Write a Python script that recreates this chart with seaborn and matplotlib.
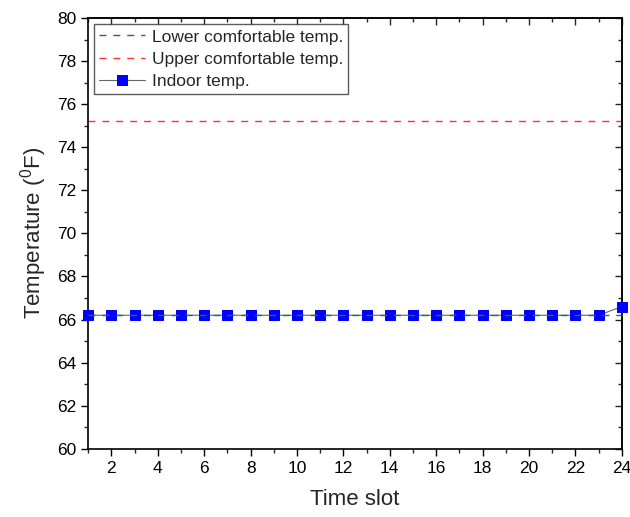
import matplotlib
matplotlib.use("Agg")
import matplotlib.pyplot as plt
import seaborn as sns
import pandas as pd
import numpy as np

sns.set_theme(style="white")
plt.rcParams['font.family'] = ['Liberation Sans', 'DejaVu Sans']
plt.rcParams['mathtext.fontset'] = 'custom'
plt.rcParams['mathtext.rm'] = 'Liberation Sans'

time_slot = list(range(1, 25))
lower_comfort = [66.2] * 24
upper_comfort = [75.2] * 24
indoor_temp = [66.2] * 23 + [66.6]

df = pd.DataFrame({"slot": time_slot, "lower": lower_comfort,
                   "upper": upper_comfort, "indoor": indoor_temp})

fig, ax = plt.subplots(figsize=(6.3, 5.17), dpi=100)
fig.subplots_adjust(left=0.14, right=0.987, top=0.965, bottom=0.132)

sns.lineplot(data=df, x="slot", y="lower", ax=ax, color="#1a7a1a", lw=1.0,
             label="Lower comfortable temp.", zorder=4)
ax.lines[-1].set_linestyle((0, (5, 5)))
sns.lineplot(data=df, x="slot", y="upper", ax=ax, color="#ff3030", lw=1.0,
             label="Upper comfortable temp.")
ax.lines[-1].set_linestyle((0, (5, 5)))
sns.lineplot(data=df, x="slot", y="indoor", ax=ax, color="#666666", lw=0.8,
             marker="s", markersize=6.5, markerfacecolor="#0000ff",
             markeredgecolor="#0000ff", label="Indoor temp.", zorder=3)
for ln in ax.lines:
    ln.set_clip_on(False)

ax.set_xlim(1, 24)
ax.set_ylim(60, 80)
ax.set_xticks(range(2, 25, 2))
ax.set_xticks(range(1, 25), minor=True)
ax.set_yticks(range(60, 81, 2))
ax.set_yticks(range(60, 81, 1), minor=True)
ax.tick_params(axis="both", which="major", direction="out", length=5, width=1,
               labelsize=12.5, colors="black", bottom=True, left=True)
ax.tick_params(axis="both", which="minor", direction="out", length=3, width=1,
               bottom=True, left=True)
for s in ax.spines.values():
    s.set_color("black")
    s.set_linewidth(1.2)

# mirrored inward ticks on top and right
top = ax.secondary_xaxis("top")
top.set_xticks(range(2, 25, 2))
top.set_xticks(range(1, 25), minor=True)
top.tick_params(which="major", direction="in", length=5, width=1, labeltop=False, top=True)
top.tick_params(which="minor", direction="in", length=3, width=1, top=True)
top.set_xticklabels([])
right = ax.secondary_yaxis("right")
right.set_yticks(range(60, 81, 2))
right.set_yticks(range(60, 81, 1), minor=True)
right.tick_params(which="major", direction="in", length=5, width=1, labelright=False, right=True)
right.tick_params(which="minor", direction="in", length=3, width=1, right=True)
right.set_yticklabels([])

ax.set_xlabel("Time slot", fontsize=16, labelpad=10)
ax.set_ylabel("Temperature ($\\mathregular{^0}$F)", fontsize=16, labelpad=6)

leg = ax.legend(loc="upper left", fontsize=12.5, frameon=True, fancybox=False,
                borderaxespad=0.35, handlelength=2.6, labelspacing=0.4,
                borderpad=0.3, handletextpad=0.4)
leg.get_frame().set_edgecolor("#333333")
leg.get_frame().set_linewidth(1.0)

fig.savefig("out.png", dpi=100)
